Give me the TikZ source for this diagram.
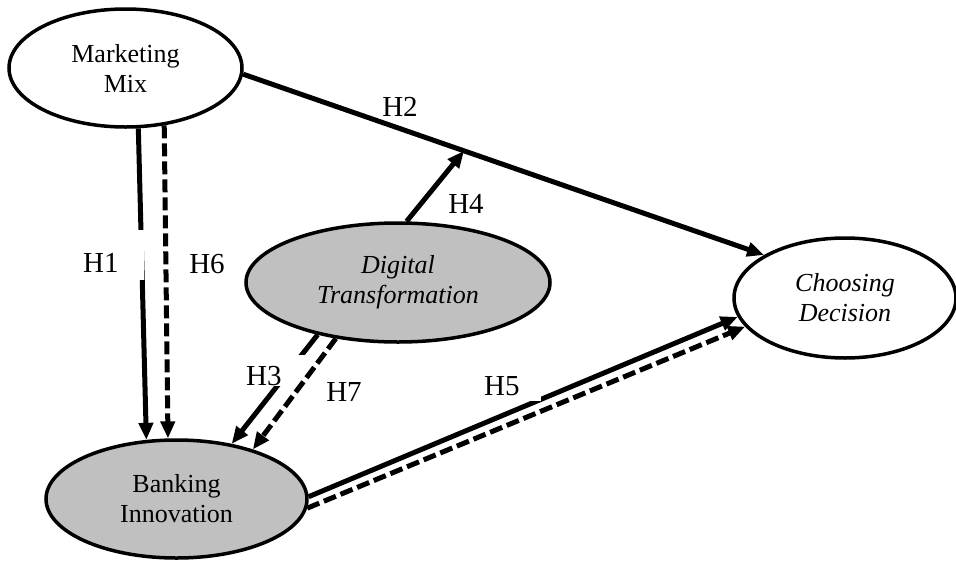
\documentclass[tikz,border=0pt]{standalone}
\usepackage{fontspec}
\setmainfont{Liberation Serif}
\usetikzlibrary{arrows.meta,shapes.geometric}
\definecolor{fillgray}{RGB}{192,192,192}

\begin{document}
\begin{tikzpicture}[x=1pt,y=-1pt,
  construct/.style={ellipse, draw, line width=3.5pt, inner sep=0pt, align=center,
    font=\fontsize{26}{30}\selectfont},
  latent/.style={construct, font=\fontsize{26}{30}\selectfont\itshape},
  shaded/.style={fill=fillgray},
  link/.style={line width=5pt, -{Triangle[length=17pt,width=14pt]}},
  dashlink/.style={link, dash pattern=on 13pt off 5pt},
  hyp/.style={fill=white, inner sep=1pt, font=\fontsize{29}{32}\selectfont},
  gaplabel/.style={hyp, anchor=base west, inner ysep=0pt, inner xsep=3pt, align=left}
]
\useasboundingbox (0,0) rectangle (956,560);

% constructs
\node[construct, minimum width=233pt, minimum height=118pt] (mm) at (125.5,68) {Marketing\\Mix};
\node[latent, shaded, minimum width=304pt, minimum height=119pt] (dt) at (398,282.5) {Digital\\Transformation};
\node[latent, minimum width=222pt, minimum height=120pt] (cd) at (845,298) {Choosing\\Decision};
\node[construct, shaded, minimum width=261pt, minimum height=118pt] (bi) at (176.5,499) {Banking\\Innovation};

% direct (solid) paths
\draw[link] (mm.-78) -- (bi.117);
\draw[link] (mm.-3.4) -- coordinate[pos=0.424] (mod) (cd.152.6);
\draw[link] (dt.82) -- (mod);
\draw[link] (dt.-147.7) -- (bi.45.2);
\draw[link] (bi.1.8) -- (cd.190.8);

% hypothesis labels
\node[gaplabel, text width=58pt, text height=42pt, text depth=8pt] (h1) at (80,272) {H1};
\node[hyp, anchor=base] (h2) at (400,116) {H2};
\node[gaplabel, text width=57pt, text height=30pt, text depth=1pt] (h3) at (243,385) {H3};
\node[hyp, anchor=base] (h4) at (466,213) {H4};
\node[gaplabel, text width=54pt, text height=27pt, text depth=6pt] (h5) at (481,395) {H5};
\node[hyp, anchor=base] (h6) at (207,273) {H6};
\node[hyp, anchor=base] (h7) at (344,401) {H7};

% mediated (dashed) paths
\draw[dashlink] (mm.-56.9) -- (bi.98.2);
\draw[dashlink] (dt.-138.8) -- (bi.33.6);
\draw[dashlink] (bi.-4) -- (cd.196.6);
\end{tikzpicture}
\end{document}
